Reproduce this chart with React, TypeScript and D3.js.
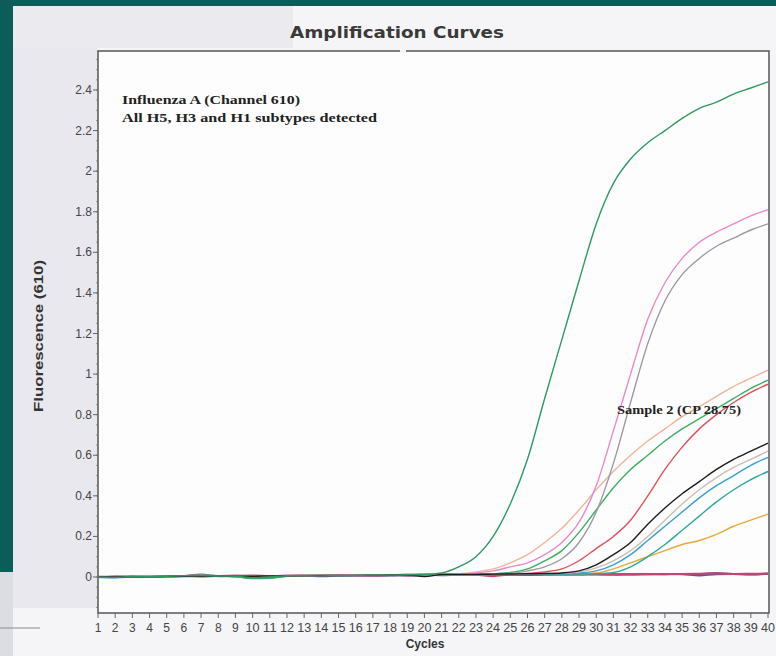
import React from 'react';
import * as d3 from 'd3';

// cycle numbers on the x axis
const cycles = [1, 2, 3, 4, 5, 6, 7, 8, 9, 10, 11, 12, 13, 14, 15, 16, 17, 18, 19, 20,
  21, 22, 23, 24, 25, 26, 27, 28, 29, 30, 31, 32, 33, 34, 35, 36, 37, 38, 39, 40];
const yTicks = [0, 0.2, 0.4, 0.6, 0.8, 1, 1.2, 1.4, 1.6, 1.8, 2, 2.2, 2.4];

// fluorescence readings per cycle
const greenStrong = [0, -0.002, 0.003, 0.002, 0.004, 0.006, 0.008, 0.005, 0.004, -0.004, 0, 0.006, 0.008, 0.009, 0.007, 0.008, 0.01, 0.009, 0.011, 0.012,
  0.02, 0.05, 0.1, 0.2, 0.36, 0.58, 0.88, 1.17, 1.46, 1.74, 1.94, 2.06, 2.14, 2.2, 2.26, 2.31, 2.34, 2.38, 2.41, 2.44];
const pink = [0, 0.002, 0.001, 0.004, 0.003, 0.006, 0.008, 0.006, 0.003, 0.002, 0.005, 0.007, 0.008, 0.009, 0.008, 0.01, 0.011, 0.01, 0.012, 0.013,
  0.014, 0.015, 0.02, 0.03, 0.05, 0.07, 0.11, 0.17, 0.27, 0.45, 0.72, 1.0, 1.27, 1.45, 1.57, 1.65, 1.7, 1.74, 1.78, 1.81];
const grey = [0, 0.001, 0.002, 0.003, 0.004, 0.005, 0.006, 0.007, 0.005, 0.003, 0.004, 0.006, 0.007, 0.008, 0.009, 0.01, 0.01, 0.011, 0.012, 0.012,
  0.013, 0.014, 0.015, 0.016, 0.018, 0.03, 0.05, 0.09, 0.17, 0.32, 0.56, 0.86, 1.15, 1.36, 1.49, 1.57, 1.63, 1.67, 1.71, 1.74];
const salmon = [0, 0.002, 0.003, 0.004, 0.003, 0.005, 0.007, 0.006, 0.004, 0.003, 0.004, 0.006, 0.008, 0.009, 0.008, 0.009, 0.01, 0.011, 0.012, 0.013,
  0.014, 0.016, 0.025, 0.04, 0.07, 0.11, 0.17, 0.24, 0.33, 0.43, 0.52, 0.6, 0.67, 0.73, 0.79, 0.84, 0.89, 0.94, 0.98, 1.02];
const greenMid = [0, 0.001, 0.002, 0.003, 0.004, 0.005, 0.01, 0.006, 0.002, -0.006, -0.004, 0.004, 0.006, 0.008, 0.008, 0.009, 0.01, 0.01, 0.011, 0.012,
  0.012, 0.013, 0.014, 0.016, 0.022, 0.04, 0.08, 0.13, 0.22, 0.33, 0.44, 0.53, 0.6, 0.67, 0.73, 0.78, 0.83, 0.88, 0.93, 0.97];
const red = [0, 0.001, 0.002, 0.004, 0.005, 0.006, 0.009, 0.007, 0.005, 0.004, 0.005, 0.006, 0.007, 0.008, 0.009, 0.009, 0.01, 0.011, 0.012, 0.012,
  0.013, 0.014, 0.014, 0.015, 0.016, 0.018, 0.025, 0.04, 0.08, 0.14, 0.2, 0.28, 0.4, 0.53, 0.64, 0.73, 0.8, 0.86, 0.91, 0.95];
const black = [0, 0, 0.001, 0.002, 0.003, 0.004, 0.005, 0.005, 0.004, 0.004, 0.005, 0.006, 0.007, 0.007, 0.008, 0.008, 0.009, 0.01, 0.01, 0.002,
  0.012, 0.013, 0.013, 0.014, 0.015, 0.016, 0.017, 0.02, 0.03, 0.06, 0.11, 0.17, 0.26, 0.34, 0.41, 0.47, 0.53, 0.58, 0.62, 0.66];
const tan = [0, 0.001, 0.002, 0.003, 0.004, 0.005, 0.006, 0.006, 0.005, 0.005, 0.006, 0.007, 0.007, 0.008, 0.009, 0.009, 0.01, 0.01, 0.011, 0.012,
  0.012, 0.013, 0.014, 0.015, 0.015, 0.016, 0.017, 0.018, 0.025, 0.045, 0.08, 0.13, 0.2, 0.28, 0.36, 0.43, 0.49, 0.54, 0.58, 0.62];
const cyan = [0, 0.001, 0.001, 0.002, 0.003, 0.004, 0.005, 0.005, 0.004, 0.003, 0.004, 0.005, 0.006, 0.007, 0.007, 0.008, 0.009, 0.009, 0.01, 0.011,
  0.011, 0.012, 0.012, 0.013, 0.014, 0.014, 0.015, 0.016, 0.02, 0.03, 0.06, 0.11, 0.18, 0.25, 0.32, 0.39, 0.45, 0.5, 0.55, 0.59];
const teal = [0, 0.001, 0.002, 0.002, 0.003, 0.004, 0.005, 0.004, 0.001, -0.008, -0.006, 0.004, 0.006, 0.007, 0.007, 0.008, 0.009, 0.009, 0.01, 0.011,
  0.011, 0.012, 0.012, 0.013, 0.013, 0.014, 0.014, 0.015, 0.015, 0.016, 0.022, 0.05, 0.1, 0.16, 0.23, 0.3, 0.37, 0.43, 0.48, 0.52];
const orange = [0, 0.001, 0.002, 0.003, 0.003, 0.004, 0.005, 0.005, 0.004, 0.004, 0.005, 0.006, 0.006, 0.007, 0.008, 0.008, 0.009, 0.01, 0.01, 0.011,
  0.011, 0.012, 0.012, 0.013, 0.013, 0.014, 0.014, 0.015, 0.016, 0.02, 0.04, 0.07, 0.1, 0.13, 0.16, 0.18, 0.21, 0.25, 0.28, 0.31];
const flatBlue = [0, -0.002, 0.001, 0.003, 0.002, 0.004, 0.003, 0.005, 0.004, 0.003, 0.002, 0.005, 0.006, 0.004, 0.006, 0.007, 0.008, 0.007, 0.009, 0.01,
  0.009, 0.011, 0.01, 0.012, 0.011, 0.01, 0.012, 0.013, 0.012, 0.014, 0.013, 0.012, 0.014, 0.015, 0.013, 0.008, 0.014, 0.015, 0.012, 0.016];
const flatPurple = [0.001, 0.002, 0.003, 0.001, 0.004, 0.005, 0.012, 0.004, 0.006, 0.003, 0.004, 0.006, 0.005, 0.007, 0.006, 0.008, 0.007, 0.009, 0.008, 0.01,
  0.01, 0.011, 0.012, 0.011, 0.013, 0.012, 0.013, 0.012, 0.014, 0.013, 0.012, 0.014, 0.013, 0.014, 0.015, 0.014, 0.02, 0.015, 0.014, 0.016];
const flatCrimson = [0, 0.001, 0.002, 0.004, 0.003, 0.005, 0.006, 0.005, 0.006, 0.007, 0.005, 0.006, 0.008, 0.007, 0.008, 0.009, 0.008, 0.01, 0.009, 0.011,
  0.01, 0.012, 0.011, 0.004, 0.012, 0.013, 0.012, 0.014, 0.013, 0.014, 0.012, 0.014, 0.015, 0.014, 0.015, 0.016, 0.018, 0.015, 0.016, 0.017];

const curves = [
  { values: flatBlue, color: '#4a5cb8' },
  { values: flatPurple, color: '#8a4c9a' },
  { values: flatCrimson, color: '#c4466a' },
  { values: orange, color: '#e8a83a' },
  { values: teal, color: '#2aa89c' },
  { values: cyan, color: '#3a9fd2' },
  { values: tan, color: '#cdbdb5' },
  { values: red, color: '#e0505a' },
  { values: greenMid, color: '#3cae62' },
  { values: salmon, color: '#f2b49a' },
  { values: grey, color: '#9e98a4' },
  { values: pink, color: '#e889c8' },
  { values: black, color: '#1c1c1c' },
  { values: greenStrong, color: '#2e9a5e' },
];

const frame = { left: 98, right: 769, top: 51, bottom: 613 };

export default function App() {
  const x = d3.scaleLinear().domain([1, 40]).range([frame.left, 768]);
  const y = d3.scaleLinear().domain([0, 2.4]).range([577, 90]);
  const minor = d3.scaleLinear().domain([-0.15, 2.55]).ticks(54);

  const line = d3.line<number>()
    .x((_, i) => x(cycles[i]))
    .y(d => y(d))
    .curve(d3.curveMonotoneX);

  const sans = 'Liberation Sans, Arial, sans-serif';
  const serif = 'Liberation Serif, Times New Roman, serif';

  return (
    <svg width={776} height={656} style={{ position: 'fixed', left: 0, top: 0 }}>
      {/* slide background and the scanned sheet */}
      <rect x={0} y={0} width={776} height={656} fill="#0c5c5a" />
      <rect x={13} y={6} width={763} height={650} fill="#f5f5f7" />
      <rect x={13} y={6} width={280} height={42} fill="#ebebef" />
      <rect x={13} y={48} width={frame.left - 13} height={560} fill="#e8e8ee" />
      <rect x={0} y={572} width={13} height={84} fill="#dcdde2" />
      <line x1={0} x2={40} y1={628} y2={628} stroke="#8a8c90" strokeWidth={1} />

      <text x={397} y={38} textAnchor="middle" fontFamily="DejaVu Sans, sans-serif" fontWeight="bold"
        fontSize={15} fill="#3a3a3a" textLength={214} lengthAdjust="spacingAndGlyphs">Amplification Curves</text>

      {/* plot area */}
      <rect x={frame.left} y={frame.top} width={frame.right - frame.left} height={frame.bottom - frame.top}
        fill="#fdfdfd" stroke="#555" strokeWidth={1.5} />
      <rect x={400} y={frame.top - 2} width={6} height={4} fill="#f5f5f7" />

      {/* y axis */}
      {minor.map(v => (
        <line key={'m' + v} x1={frame.left - 2} x2={frame.left} y1={y(v)} y2={y(v)} stroke="#777" strokeWidth={0.8} />
      ))}
      {yTicks.map(v => (
        <g key={'y' + v}>
          <line x1={frame.left - 5} x2={frame.left} y1={y(v)} y2={y(v)} stroke="#666" strokeWidth={1} />
          <text x={frame.left - 6} y={y(v) + 4} textAnchor="end" fontFamily={sans} fontSize={12} fill="#444">{v}</text>
        </g>
      ))}
      <text transform={`translate(43,${(frame.top + frame.bottom) / 2 + 4}) rotate(-90)`} textAnchor="middle"
        fontFamily={sans} fontWeight="bold" fontSize={12} fill="#333" textLength={152}
        lengthAdjust="spacingAndGlyphs">Fluorescence (610)</text>

      {/* x axis */}
      {cycles.map(c => (
        <g key={'x' + c}>
          <line x1={x(c)} x2={x(c)} y1={frame.bottom} y2={frame.bottom + 5} stroke="#666" strokeWidth={1} />
          <text x={x(c)} y={frame.bottom + 19} textAnchor="middle" fontFamily={sans} fontSize={12} fill="#444"
            textLength={c >= 10 ? 14 : undefined} lengthAdjust="spacingAndGlyphs">{c}</text>
        </g>
      ))}
      <text x={425} y={648} textAnchor="middle" fontFamily={sans} fontWeight="bold" fontSize={12} fill="#333">Cycles</text>

      {/* curves */}
      {curves.map((s, i) => (
        <path key={i} d={line(s.values) || ''} fill="none" stroke={s.color}
          strokeWidth={i < 3 ? 2 : 1.4} strokeLinejoin="round" />
      ))}

      {/* annotations */}
      <text x={122} y={104} fontFamily={serif} fontWeight="bold" fontSize={13} fill="#222"
        textLength={178} lengthAdjust="spacingAndGlyphs">Influenza A (Channel 610)</text>
      <text x={122} y={122} fontFamily={serif} fontWeight="bold" fontSize={13} fill="#222"
        textLength={255} lengthAdjust="spacingAndGlyphs">All H5, H3 and H1 subtypes detected</text>
      <text x={617} y={414} fontFamily={serif} fontWeight="bold" fontSize={12} fill="#222"
        textLength={124} lengthAdjust="spacingAndGlyphs">Sample 2 (CP 28.75)</text>
    </svg>
  );
}
